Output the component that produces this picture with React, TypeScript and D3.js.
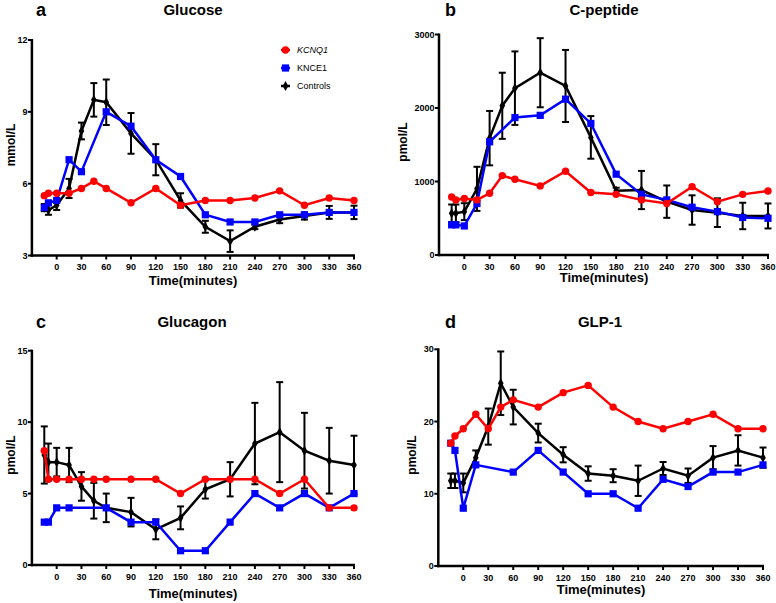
import React from "react";
import * as d3 from "d3";

const times = [-15, -10, 0, 15, 30, 45, 60, 90, 120, 150, 180, 210, 240, 270, 300, 330, 360];
const xTicks = [0, 30, 60, 90, 120, 150, 180, 210, 240, 270, 300, 330, 360];
const seriesNames = ["KCNQ1", "KNCE1", "Controls"];

// Glucose (mmol/L)
const glucoseKCNQ1 = [5.5, 5.6, 5.6, 5.6, 5.8, 6.1, 5.8, 5.2, 5.8, 5.1, 5.3, 5.3, 5.4, 5.7, 5.1, 5.4, 5.3];
const glucoseKNCE1 = [5.0, 5.2, 5.3, 7.0, 6.5, null, 9.0, 8.4, 7.0, 6.3, 4.7, 4.4, 4.4, 4.7, 4.7, 4.8, 4.8];
const glucoseControls = [5.0, 4.9, 5.1, 5.8, 8.2, 9.5, 9.4, 8.1, 7.0, 5.3, 4.2, 3.6, 4.2, 4.5, 4.65, 4.8, 4.8];
const glucoseControlsErr = [0.15, 0.2, 0.2, 0.4, 0.35, 0.7, 0.95, 0.85, 0.65, 0.3, 0.25, 0.45, 0.1, 0.15, 0.15, 0.27, 0.28];
const glucoseTicks = [3, 6, 9, 12];

// C-peptide (pmol/L)
const cpepKCNQ1 = [790, 750, 770, 750, 840, 1080, 1030, 940, 1140, 850, 825, 750, 700, 930, 725, 825, 870];
const cpepKNCE1 = [410, 410, 395, 700, 1540, null, 1870, 1900, 2120, 1790, 1100, 825, 750, 650, 590, 510, 500];
const cpepControls = [567, 567, 590, 900, 1590, 2030, 2270, 2480, 2300, 1600, 875, 884, 726, 612, 576, 531, 531];
const cpepControlsErr = [120, 120, 115, 300, 370, 450, 500, 470, 490, 290, 40, 260, 220, 200, 195, 180, 170];
const cpepTicks = [0, 1000, 2000, 3000];

// Glucagon (pmol/L)
const glucagonKCNQ1 = [8, 6, 6, 6, 6, 6, 6, 6, 6, 5, 6, 6, 6, 5, 6, 4, 4];
const glucagonKNCE1 = [3, 3, 4, 4, null, null, 4, 3, 3, 1, 1, 3, 5, 4, 5, 4, 5];
const glucagonControls = [7.7, 7.2, 7.2, 7.0, 5.5, 4.5, 4.0, 3.7, 2.5, 3.3, 5.3, 6.0, 8.5, 9.3, 8.0, 7.3, 7.0];
const glucagonControlsErr = [2.0, 1.3, 1.0, 1.2, 1.0, 1.25, 1.0, 1.0, 0.7, 0.8, 0.65, 1.2, 2.85, 3.5, 2.65, 2.3, 2.05];
const glucagonTicks = [0, 5, 10, 15];

// GLP-1 (pmol/L)
const glpKCNQ1 = [17, 18, 19, 21, 19, 22, 23, 22, 24, 25, 22, 20, 19, 20, 21, 19, 19];
const glpKNCE1 = [17, 16, 8, 14, null, null, 13, 16, 13, 10, 10, 8, 12, 11, 13, 13, 14];
const glpControls = [11.8, 11.8, 11.5, 15.0, 19.3, 25.3, 22.0, 18.4, 15.4, 12.8, 12.5, 11.8, 13.5, 12.5, 15.0, 16.0, 15.0];
const glpControlsErr = [1.0, 1.0, 1.3, 1.0, 2.5, 4.4, 2.4, 1.3, 1.05, 1.0, 0.9, 2.1, 0.9, 1.0, 1.6, 2.1, 1.4];
const glpTicks = [0, 10, 20, 30];

const RED = "#ff0000";
const BLUE = "#0000ff";
const BLACK = "#000000";
const FONT = "'Liberation Sans', Arial, Helvetica, sans-serif";

type PanelProps = {
  letter: string;
  title: string;
  yLabel: string;
  xRange: [number, number];
  yRange: [number, number];
  yDomain: [number, number];
  yTicks: number[];
  red: (number | null)[];
  blue: (number | null)[];
  black: number[];
  blackErr: number[];
  letterX: number;
  titleX: number;
  titleY: number;
  yLabelX: number;
  yLabelY: number;
  xLabelX: number;
  xLabelY: number;
  legend?: boolean;
};

function Panel(p: PanelProps) {
  const x = d3.scaleLinear().domain([-30, 360]).range(p.xRange);
  const y = d3.scaleLinear().domain(p.yDomain).range(p.yRange);
  const pts = (vals: (number | null)[]) =>
    times.map((t, i) => [t, vals[i]] as [number, number | null]).filter((d) => d[1] !== null) as [number, number][];
  const line = d3
    .line<[number, number]>()
    .x((d) => x(d[0]))
    .y((d) => y(d[1]));
  const redPts = pts(p.red);
  const bluePts = pts(p.blue);
  const blackPts = pts(p.black);
  const diamond = d3.symbol().type(d3.symbolDiamond).size(28)() as string;
  const x0 = p.xRange[0];
  const yBottom = p.yRange[0];
  const yTop = p.yRange[1];
  return (
    <g fontFamily={FONT}>
      <text x={p.letterX} y={p.titleY + 1} fontSize={18} fontWeight="bold">
        {p.letter}
      </text>
      <text x={p.titleX} y={p.titleY} fontSize={15} fontWeight="bold" textAnchor="middle">
        {p.title}
      </text>
      {/* axes */}
      <line x1={x0} x2={x0} y1={yTop - 1} y2={yBottom + 1.25} stroke="#000" strokeWidth={2.5} />
      <line x1={x0 - 1.25} x2={x(360) + 1} y1={yBottom} y2={yBottom} stroke="#000" strokeWidth={2.5} />
      {p.yTicks.map((t) => (
        <g key={"yt" + t}>
          <line x1={x0 - 4} x2={x0} y1={y(t)} y2={y(t)} stroke="#000" strokeWidth={2} />
          <text x={x0 - 4.5} y={y(t) + 3} fontSize={9} fontWeight="bold" textAnchor="end">
            {t}
          </text>
        </g>
      ))}
      {xTicks.map((t) => (
        <g key={"xt" + t}>
          <line x1={x(t)} x2={x(t)} y1={yBottom} y2={yBottom + 4} stroke="#000" strokeWidth={2} />
          <text x={x(t)} y={yBottom + 14.5} fontSize={9} fontWeight="bold" textAnchor="middle">
            {t}
          </text>
        </g>
      ))}
      <text x={p.xLabelX} y={p.xLabelY} fontSize={13} fontWeight="bold" textAnchor="middle">
        Time(minutes)
      </text>
      <text
        transform={`translate(${p.yLabelX},${p.yLabelY}) rotate(-90)`}
        fontSize={12}
        fontWeight="bold"
        textAnchor="middle"
      >
        {p.yLabel}
      </text>
      {/* Controls (black) with error bars */}
      {blackPts.map((d, i) => {
        const e = p.blackErr[times.indexOf(d[0])];
        const cx = x(d[0]);
        const y1 = y(d[1] + e);
        const y2 = y(d[1] - e);
        return (
          <g key={"eb" + i} stroke="#000" strokeWidth={2}>
            <line x1={cx} x2={cx} y1={y1} y2={y2} />
            <line x1={cx - 3.5} x2={cx + 3.5} y1={y1} y2={y1} />
            <line x1={cx - 3.5} x2={cx + 3.5} y1={y2} y2={y2} />
          </g>
        );
      })}
      <path d={line(blackPts) || ""} fill="none" stroke={BLACK} strokeWidth={2.5} />
      {blackPts.map((d, i) => (
        <path key={"bk" + i} d={diamond} transform={`translate(${x(d[0])},${y(d[1])})`} fill={BLACK} />
      ))}
      {/* KNCE1 (blue) */}
      <path d={line(bluePts) || ""} fill="none" stroke={BLUE} strokeWidth={2.5} />
      {bluePts.map((d, i) => (
        <rect key={"bl" + i} x={x(d[0]) - 3.6} y={y(d[1]) - 3.6} width={7.2} height={7.2} fill={BLUE} />
      ))}
      {/* KCNQ1 (red) */}
      <path d={line(redPts) || ""} fill="none" stroke={RED} strokeWidth={2.5} />
      {redPts.map((d, i) => (
        <circle key={"rd" + i} cx={x(d[0])} cy={y(d[1])} r={3.7} fill={RED} />
      ))}
      {p.legend && (
        <g>
          {seriesNames.map((name, i) => {
            const ly = 50 + i * 18;
            const col = [RED, BLUE, BLACK][i];
            return (
              <g key={name}>
                <line x1={281} x2={290} y1={ly} y2={ly} stroke={col} strokeWidth={2.5} />
                {i === 0 && <circle cx={285.5} cy={ly} r={3.7} fill={col} />}
                {i === 1 && <rect x={281.9} y={ly - 3.6} width={7.2} height={7.2} fill={col} />}
                {i === 2 && <path d={diamond} transform={`translate(285.5,${ly})`} fill={col} />}
                <text x={297} y={ly + 3.2} fontSize={9} fontStyle={i === 0 ? "italic" : "normal"}>
                  {name}
                </text>
              </g>
            );
          })}
        </g>
      )}
    </g>
  );
}

export default function App() {
  return (
    <svg
      width={776}
      height={603}
      style={{ position: "absolute", left: 0, top: 0, background: "#fff" }}
    >
      <rect width={776} height={603} fill="#fff" />
      <Panel
        letter="a"
        title="Glucose"
        yLabel="mmol/L"
        xRange={[31.9, 354]}
        yRange={[255.5, 40]}
        yDomain={[3, 12]}
        yTicks={glucoseTicks}
        red={glucoseKCNQ1}
        blue={glucoseKNCE1}
        black={glucoseControls}
        blackErr={glucoseControlsErr}
        letterX={36}
        titleX={193}
        titleY={15}
        yLabelX={15}
        yLabelY={145}
        xLabelX={193}
        xLabelY={285}
        legend
      />
      <Panel
        letter="b"
        title="C-peptide"
        yLabel="pmol/L"
        xRange={[439, 768]}
        yRange={[255, 34.5]}
        yDomain={[0, 3000]}
        yTicks={cpepTicks}
        red={cpepKCNQ1}
        blue={cpepKNCE1}
        black={cpepControls}
        blackErr={cpepControlsErr}
        letterX={445}
        titleX={604}
        titleY={14.5}
        yLabelX={407}
        yLabelY={142}
        xLabelX={604}
        xLabelY={282}
      />
      <Panel
        letter="c"
        title="Glucagon"
        yLabel="pmol/L"
        xRange={[31.9, 354]}
        yRange={[565, 350.7]}
        yDomain={[0, 15]}
        yTicks={glucagonTicks}
        red={glucagonKCNQ1}
        blue={glucagonKNCE1}
        black={glucagonControls}
        blackErr={glucagonControlsErr}
        letterX={36}
        titleX={192}
        titleY={326.5}
        yLabelX={15}
        yLabelY={455}
        xLabelX={193}
        xLabelY={598}
      />
      <Panel
        letter="d"
        title="GLP-1"
        yLabel="pmol/L"
        xRange={[438.3, 763]}
        yRange={[566, 349.3]}
        yDomain={[0, 30]}
        yTicks={glpTicks}
        red={glpKCNQ1}
        blue={glpKNCE1}
        black={glpControls}
        blackErr={glpControlsErr}
        letterX={445}
        titleX={600}
        titleY={326.5}
        yLabelX={416}
        yLabelY={455}
        xLabelX={601}
        xLabelY={594}
      />
    </svg>
  );
}
